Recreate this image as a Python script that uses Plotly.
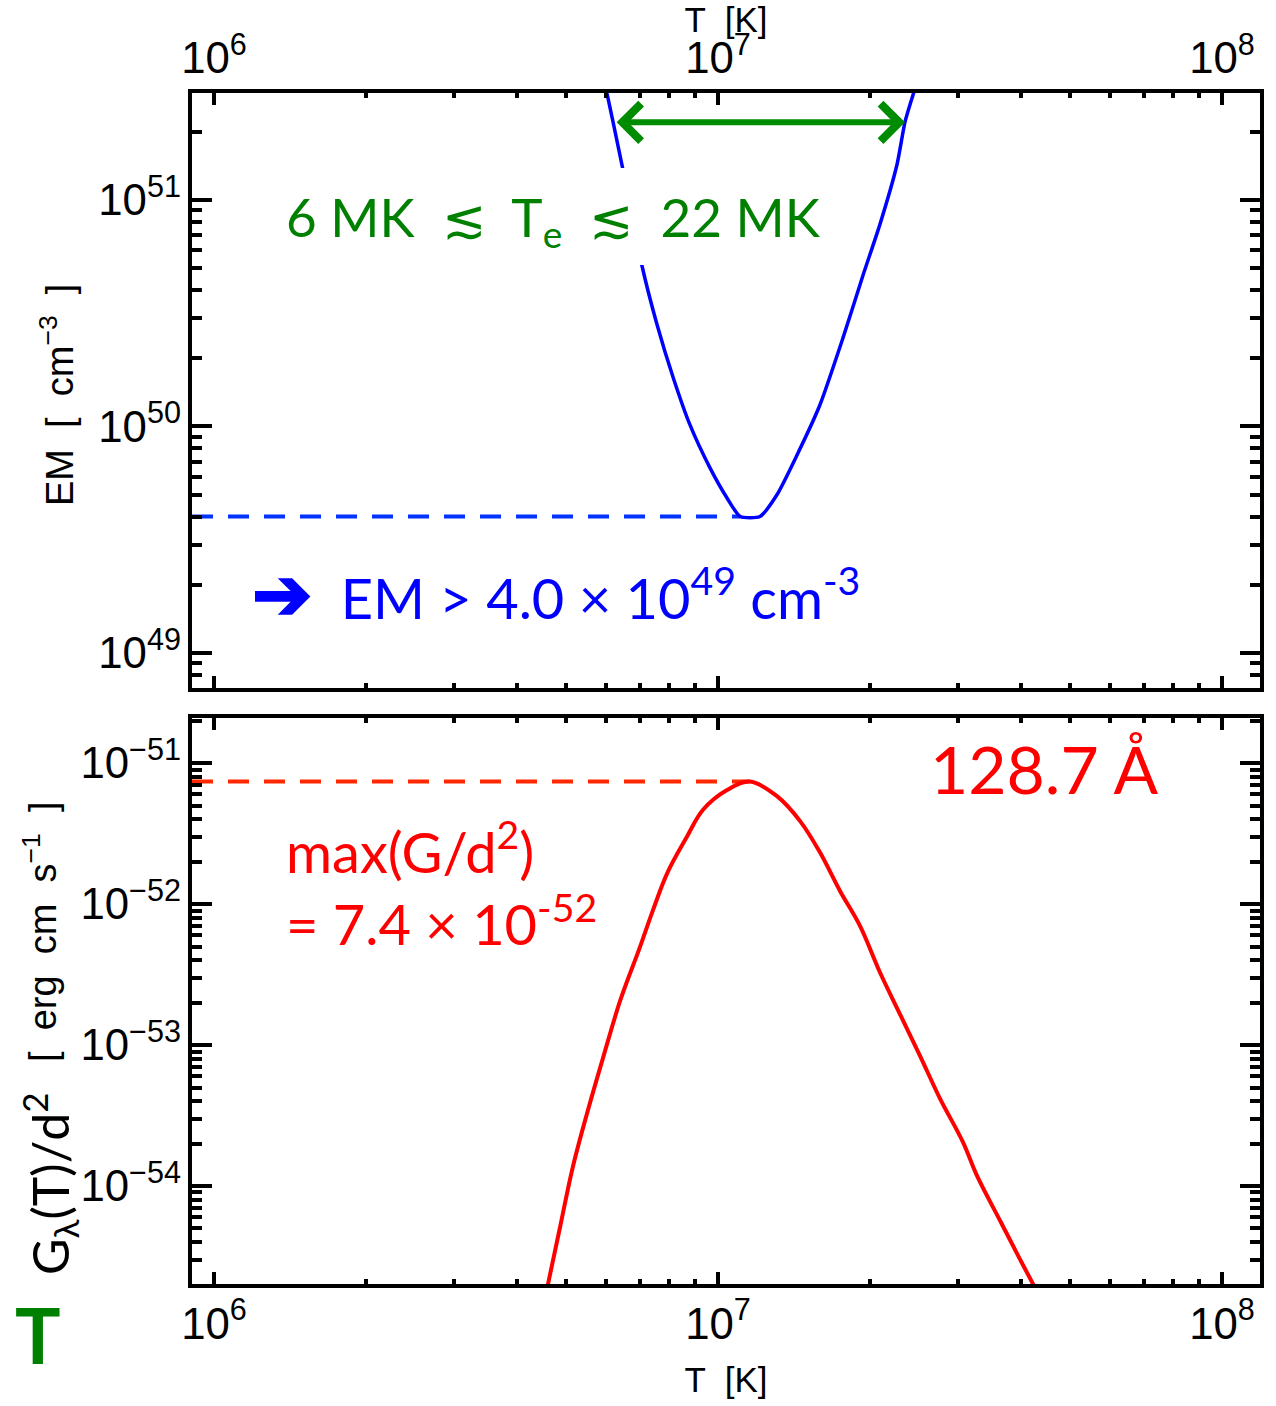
import numpy as np
import plotly.graph_objects as go

# Contribution function G(T)/d^2 of the 128.7 Å line [erg cm s^-1]
T_G = [4.52e6, 4.60e6, 4.86e6, 5.15e6, 5.50e6, 5.92e6, 6.40e6, 7.00e6, 7.43e6,
       7.93e6, 8.67e6, 9.33e6, 1.042e7, 1.156e7, 1.309e7, 1.455e7, 1.592e7,
       1.746e7, 1.914e7, 2.094e7, 2.296e7, 2.518e7, 2.754e7, 3.062e7, 3.266e7,
       3.631e7, 3.972e7, 4.217e7, 4.315e7]
G_vals = [1.48e-55, 2.02e-55, 5.12e-55, 1.36e-54, 3.30e-54, 8.22e-54, 2.08e-53,
          4.95e-53, 9.06e-53, 1.66e-52, 2.99e-52, 4.65e-52, 6.44e-52, 7.40e-52,
          5.83e-52, 3.88e-52, 2.34e-52, 1.24e-52, 6.98e-53, 3.30e-53, 1.66e-53,
          8.36e-54, 4.21e-54, 2.05e-54, 1.18e-54, 5.65e-55, 3.03e-55, 2.02e-55,
          1.74e-55]

# EM loci curve [cm^-3]
T_EM = [5.98e6, 6.03e6, 6.19e6, 6.46e6, 7.06e6, 7.57e6, 8.15e6, 8.79e6, 9.64e6,
        1.042e7, 1.107e7, 1.211e7, 1.309e7, 1.435e7, 1.592e7, 1.770e7, 1.941e7,
        2.094e7, 2.265e7, 2.350e7, 2.427e7, 2.466e7]
EM_vals = [3.16e51, 2.91e51, 2.21e51, 1.40e51, 5.16e50, 2.81e50, 1.64e50,
           1.02e50, 6.56e49, 4.83e49, 4.00e49, 4.00e49, 4.99e49, 7.48e49,
           1.24e50, 2.46e50, 4.67e50, 7.76e50, 1.43e51, 2.21e51, 2.82e51, 3.16e51]

EM_MIN = 4.0e49          # lower limit of EM
G_MAX = 7.4e-52          # peak of G/d^2
TE_RANGE = [6.25e6, 2.35e7]   # temperature span marked by the double arrow
EM_ARROW = 2.2e51

# axis ranges (log10)
X_RANGE = [5.9563, 8.0754]
Y_EM_RANGE = [48.845, 51.472]
Y_G_RANGE = [-54.695, -50.68]

TICK_FONT = dict(family="Liberation Sans", size=35, color="black")
TITLE_FONT = dict(family="Liberation Sans", size=38, color="black")
TEXT_FONT = "Lato"

fig = go.Figure()

i_min = int(np.argmin(EM_vals))
i_max = int(np.argmax(G_vals))

# EM loci and lower EM limit
fig.add_trace(go.Scatter(x=[10 ** X_RANGE[0], T_EM[i_min]], y=[EM_MIN, EM_MIN],
                         mode="lines", xaxis="x2", yaxis="y2",
                         line=dict(color="rgb(0,51,255)", width=4, dash="21px,15px")))
fig.add_trace(go.Scatter(x=T_EM, y=EM_vals, mode="lines", xaxis="x2", yaxis="y2",
                         line=dict(color="rgb(0,0,255)", width=3.5, shape="spline",
                                   smoothing=0.6)))

# contribution function and its maximum
fig.add_trace(go.Scatter(x=[10 ** X_RANGE[0], T_G[i_max]], y=[G_MAX, G_MAX],
                         mode="lines", xaxis="x", yaxis="y",
                         line=dict(color="rgb(255,40,0)", width=4, dash="21px,15px")))
fig.add_trace(go.Scatter(x=T_G, y=G_vals, mode="lines", xaxis="x", yaxis="y",
                         line=dict(color="rgb(255,0,0)", width=4, shape="spline")))

common_x = dict(type="log", range=X_RANGE, dtick=1, exponentformat="power",
                showexponent="all", showline=True, linecolor="black", linewidth=4,
                mirror="allticks", ticks="inside", ticklen=12, tickwidth=4,
                tickcolor="black", tickfont=TICK_FONT, showgrid=False, zeroline=False,
                automargin=False,
                minor=dict(ticks="inside", ticklen=5, tickwidth=4, tickcolor="black",
                           dtick="D1", showgrid=False))
common_y = dict(type="log", dtick=1, exponentformat="power", showexponent="all",
                showline=True, linecolor="black", linewidth=4, mirror="allticks",
                ticks="inside", ticklen=20, tickwidth=4, tickcolor="black",
                tickfont=TICK_FONT, showgrid=False, zeroline=False, automargin=False,
                minor=dict(ticks="inside", ticklen=10, tickwidth=4, tickcolor="black",
                           dtick="D1", showgrid=False))

fig.update_layout(
    width=1276, height=1406,
    margin=dict(l=192, r=16, t=93, b=122),
    paper_bgcolor="white", plot_bgcolor="white",
    showlegend=False,
    xaxis=dict(common_x, anchor="y", side="bottom",
               title=dict(text="T  [K]", font=TICK_FONT, standoff=22)),
    yaxis=dict(common_y, domain=[0, 0.4752], range=Y_G_RANGE, anchor="x"),
    xaxis2=dict(common_x, anchor="y2", side="top",
                title=dict(text="T  [K]", font=TICK_FONT, standoff=2)),
    yaxis2=dict(common_y, domain=[0.5004, 1], range=Y_EM_RANGE, anchor="x2"),
)

# white box behind the temperature range label
fig.add_shape(type="rect", xref="paper", yref="paper", x0=0.0655, x1=0.597,
              y0=0.8556, y1=0.937, fillcolor="white", line=dict(width=0), layer="above")

# double arrow spanning the temperature range
fig.add_annotation(x=np.log10(TE_RANGE[1]), y=np.log10(EM_ARROW),
                   ax=np.log10(TE_RANGE[0]), ay=np.log10(EM_ARROW),
                   xref="x2", yref="y2", axref="x2", ayref="y2", text="",
                   showarrow=True, arrowhead=4, startarrowhead=4, arrowside="end+start",
                   arrowsize=1.2, startarrowsize=1.2, arrowwidth=6,
                   arrowcolor="rgb(0,140,0)", standoff=0, startstandoff=0)

fig.add_annotation(xref="paper", yref="paper", x=0.0861, y=0.893, xanchor="left",
                   yanchor="middle", showarrow=False,
                   text="6 MK  ≲  T<sub>e</sub>  ≲  22 MK",
                   font=dict(family=TEXT_FONT, size=53, color="rgb(0,128,0)"))

fig.add_annotation(xref="paper", yref="paper", x=0.0545, y=0.582, xanchor="left",
                   yanchor="middle", showarrow=False,
                   text="<span style=\"font-size:72px\"><b>➔</b></span>  EM > 4.0 × 10<sup>49</sup> cm<sup>-3</sup>",
                   font=dict(family=TEXT_FONT, size=56, color="rgb(0,0,255)"))

fig.add_annotation(xref="paper", yref="paper", x=0.0860, y=0.336, xanchor="left",
                   yanchor="middle", showarrow=False, align="left",
                   text="max(G/d<sup>2</sup>)<br>= 7.4 × 10<sup>-52</sup>",
                   font=dict(family=TEXT_FONT, size=56, color="rgb(255,0,0)"))

fig.add_annotation(xref="paper", yref="paper", x=0.689, y=0.433, xanchor="left",
                   yanchor="middle", showarrow=False, text="128.7 Å",
                   font=dict(family=TEXT_FONT, size=66, color="rgb(255,0,0)"))

# y-axis titles
fig.add_annotation(xref="paper", yref="paper", x=-0.1264, y=0.7464, textangle=-90,
                   xanchor="center", yanchor="middle",
                   showarrow=False, text="EM  [  cm<sup>−3</sup>  ]", font=TITLE_FONT)
fig.add_annotation(xref="paper", yref="paper", x=-0.133, y=0.0848, textangle=-90,
                   xanchor="center", yanchor="middle",
                   showarrow=False, text="G<sub>λ</sub>(T)/d<sup>2</sup>",
                   font=dict(family=TEXT_FONT, size=50, color="black"))
fig.add_annotation(xref="paper", yref="paper", x=-0.1423, y=0.2956, textangle=-90,
                   xanchor="center", yanchor="middle",
                   showarrow=False, text="[  erg  cm  s<sup>−1</sup>  ]", font=TITLE_FONT)

fig.add_annotation(xref="paper", yref="paper", x=-0.144, y=-0.0428, showarrow=False,
                   xanchor="center", yanchor="middle", text="<b>T</b>",
                   font=dict(family=TEXT_FONT, size=76, color="rgb(0,128,0)"))

fig.write_html("out.html")
